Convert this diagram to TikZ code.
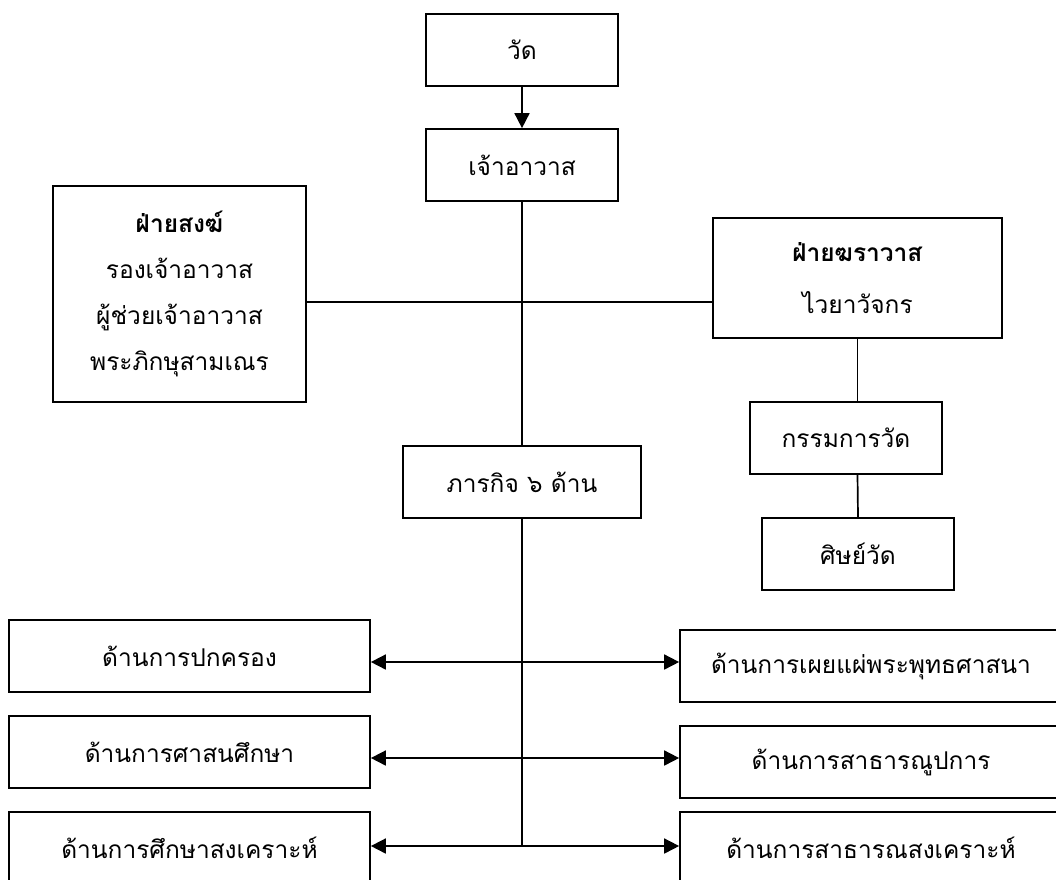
\documentclass[tikz,border=0pt]{standalone}
\usepackage{fontspec}
\newfontfamily\thai[Script=Thai]{Loma}
\usetikzlibrary{arrows.meta}
\begin{document}
\begin{tikzpicture}[x=1pt,y=-1pt,
  box/.style={draw, line width=1.7pt, inner sep=0pt, align=center,
    font=\thai\fontsize{24.5}{46}\selectfont},
  conn/.style={line width=1.7pt},
  tip/.style={-{Triangle[length=15pt,width=15pt]}}]
\useasboundingbox (0,0) rectangle (1056,879);
\clip (0,0) rectangle (1056,879);
% top chain
\node[box, minimum width=192pt, minimum height=72pt] (wat) at (522,50) {วัด};
\node[box, minimum width=192pt, minimum height=72pt] (abbot) at (522,165) {เจ้าอาวาส};
\node[box, minimum width=253pt, minimum height=216pt] (sangha) at (179.5,294)
  {\textbf{ฝ่ายสงฆ์}\\รองเจ้าอาวาส\\ผู้ช่วยเจ้าอาวาส\\พระภิกษุสามเณร};
\node[box, minimum width=289pt, minimum height=120pt] (laity) at (857.5,278)
  {\textbf{ฝ่ายฆราวาส}\\[6pt]ไวยาวัจกร};
\node[box, minimum width=192pt, minimum height=72pt] (committee) at (846,438) {กรรมการวัด};
\node[box, minimum width=192pt, minimum height=72pt] (disciple) at (858,554) {ศิษย์วัด};
\node[box, minimum width=238pt, minimum height=72pt] (mission) at (522,482) {ภารกิจ ๖ ด้าน};
% six areas
\node[box, minimum width=361pt, minimum height=72pt] (L1) at (189.5,656) {ด้านการปกครอง};
\node[box, minimum width=361pt, minimum height=72pt] (L2) at (189.5,752) {ด้านการศาสนศึกษา};
\node[box, minimum width=361pt, minimum height=72pt] (L3) at (189.5,848) {ด้านการศึกษาสงเคราะห์};
\node[box, minimum width=382pt, minimum height=72pt] (R1) at (871,666) {ด้านการเผยแผ่พระพุทธศาสนา};
\node[box, minimum width=382pt, minimum height=72pt] (R2) at (871,762) {ด้านการสาธารณูปการ};
\node[box, minimum width=382pt, minimum height=72pt] (R3) at (871,848) {ด้านการสาธารณสงเคราะห์};
% connectors
\coordinate (h) at (522,302);
\coordinate (j1) at (522,662);
\coordinate (j2) at (522,758);
\coordinate (j3) at (522,846);
\draw[conn,tip] (wat) -- (abbot);
\draw[conn] (abbot) -- (mission);
\draw[conn] (sangha.east |- h) -- (laity.west |- h);
\draw[conn] (laity.south) -- (laity.south |- committee.north);
\draw[conn] (laity.south |- committee.south) -- (disciple.north);
\draw[conn] (mission) -- (j3);
\draw[conn,tip] (j1) -- (L1.east |- j1);
\draw[conn,tip] (j1) -- (R1.west |- j1);
\draw[conn,tip] (j2) -- (L2.east |- j2);
\draw[conn,tip] (j2) -- (R2.west |- j2);
\draw[conn,tip] (j3) -- (L3.east |- j3);
\draw[conn,tip] (j3) -- (R3.west |- j3);
\end{tikzpicture}
\end{document}
